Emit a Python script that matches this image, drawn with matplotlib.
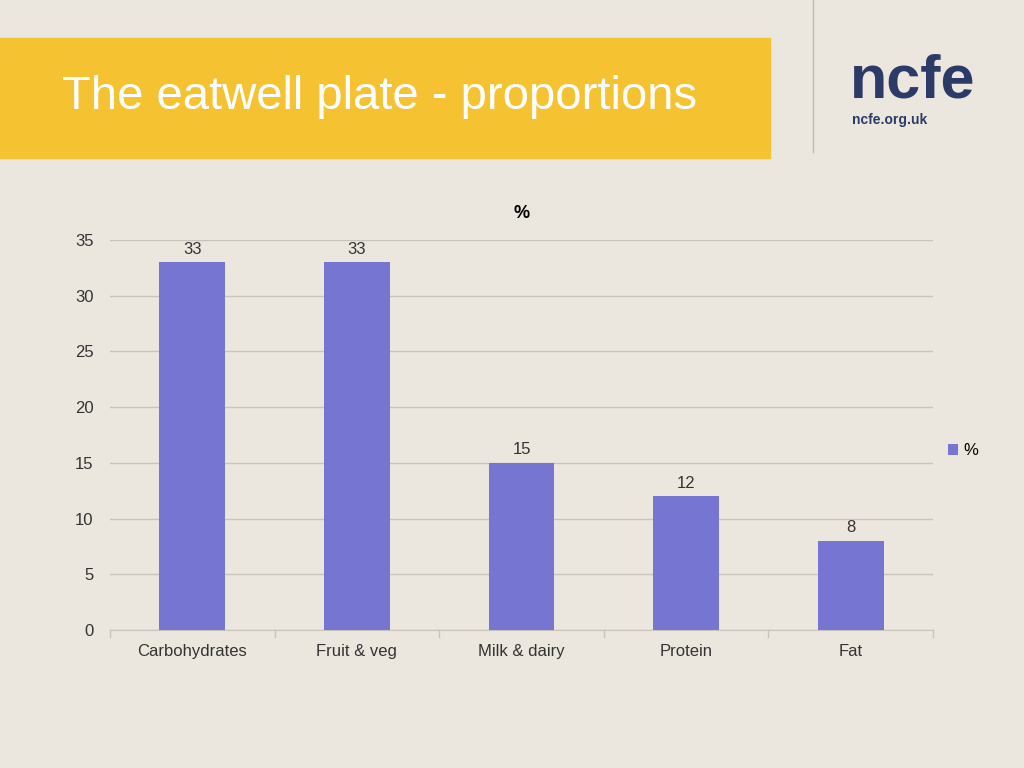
import matplotlib.pyplot as plt
from matplotlib.patches import Rectangle
import numpy as np

plt.rcParams['font.family'] = ['Liberation Sans', 'DejaVu Sans']

categories = ['Carbohydrates', 'Fruit & veg', 'Milk & dairy', 'Protein', 'Fat']
values = [33, 33, 15, 12, 8]
yticks = [0, 5, 10, 15, 20, 25, 30, 35]

bg = '#ece7de'
bar_color = '#7676d2'

fig = plt.figure(figsize=(10.24, 7.68), dpi=100, facecolor=bg)

# yellow banner and title
fig.patches.append(Rectangle((0, 1 - 158 / 768), 770 / 1024, 120 / 768,
                             transform=fig.transFigure, color='#f5c232', zorder=0))
fig.text(62 / 1024, 1 - 97 / 768, 'The eatwell plate - proportions',
         color='white', fontsize=34, va='center', ha='left')

# logo
fig.add_artist(plt.Line2D([813 / 1024, 813 / 1024], [1, 1 - 152 / 768],
                          transform=fig.transFigure, color='#bbbbbb', lw=1))
fig.text(850 / 1024, 1 - 82 / 768, 'ncfe', color='#2b3a67', fontsize=44,
         fontweight='bold', va='center', ha='left')
fig.text(852 / 1024, 1 - 120 / 768, 'ncfe.org.uk', color='#2b3a67', fontsize=10,
         fontweight='bold', va='center', ha='left')

ax = fig.add_axes([110 / 1024, 138 / 768, 823 / 1024, 390 / 768])
ax.set_facecolor('none')
x = np.arange(len(categories))
bars = ax.bar(x, values, width=0.4, color=bar_color, label='%', zorder=3)
for xi, v in zip(x, values):
    ax.text(xi, v + 0.5, str(v), ha='center', va='bottom', fontsize=12, color='#333333')

ax.set_xlim(-0.5, len(categories) - 0.5)
ax.set_ylim(0, 35)
ax.set_yticks(yticks)
ax.grid(axis='y', color='#c8c4bc', lw=1, zorder=0)
ax.set_xticks(x)
ax.set_xticklabels(categories, fontsize=12, color='#333333')
ax.tick_params(axis='y', labelsize=12, colors='#333333', length=0, pad=12)
ax.tick_params(axis='x', length=0, pad=10)
for s in ['top', 'right', 'left']:
    ax.spines[s].set_visible(False)
ax.spines['bottom'].set_color('#c8c4bc')
for b in np.arange(-0.5, len(categories), 1.0):
    ax.plot([b, b], [0, -0.6], color='#c8c4bc', lw=1, clip_on=False)
ax.set_title('%', fontsize=13, fontweight='bold', pad=16)

ax.legend(loc='center left', bbox_to_anchor=(1.0, 0.46), frameon=False,
          fontsize=12, handlelength=0.6, handleheight=0.6, handletextpad=0.3)

fig.savefig('out.png', dpi=100, facecolor=bg)
